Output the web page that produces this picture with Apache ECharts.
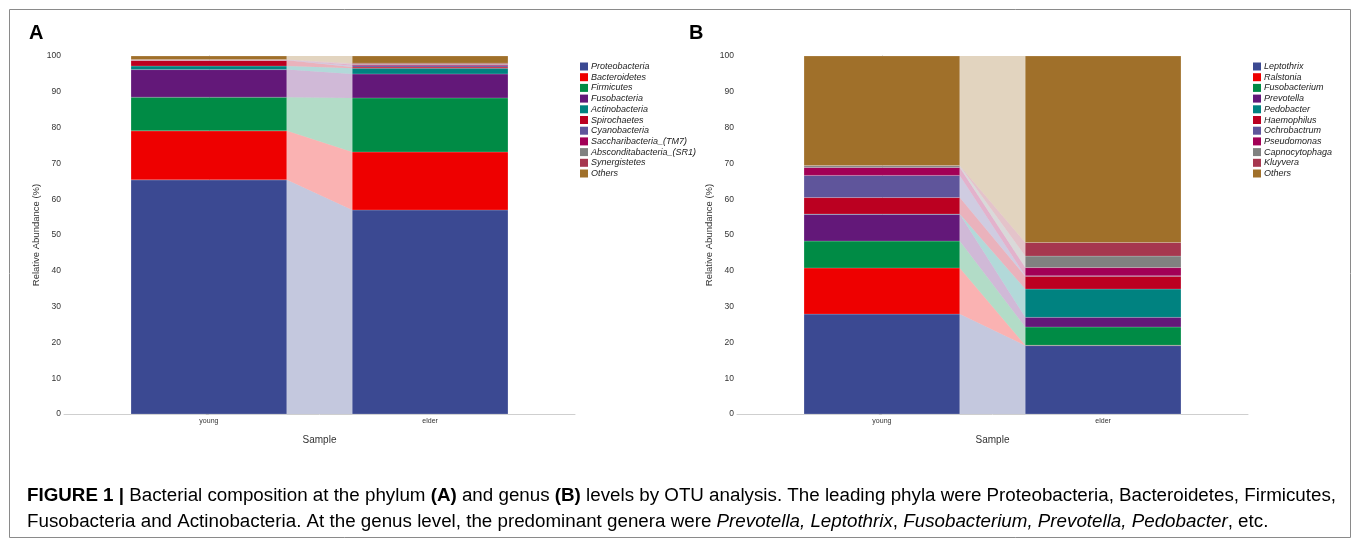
<!DOCTYPE html>
<html>
<head>
<meta charset="utf-8">
<script src="https://cdn.jsdelivr.net/npm/echarts@6/dist/echarts.min.js"></script>
<style>
html,body{margin:0;padding:0;background:#fff;}
#chart{width:1357px;height:542px;}
</style>
</head>
<body>
<div id="chart"></div>
<script>
// ---------------- data ----------------
const categories = ['young', 'elder'];

const phylumNames = ['Proteobacteria', 'Bacteroidetes', 'Firmicutes', 'Fusobacteria', 'Actinobacteria',
  'Spirochaetes', 'Cyanobacteria', 'Saccharibacteria_(TM7)', 'Absconditabacteria_(SR1)', 'Synergistetes', 'Others'];
const phylumYoung = [65.4, 13.7, 9.4, 7.7, 1.0, 1.6, 0.05, 0.05, 0.05, 0.05, 1.0];
const phylumElder = [57.0, 16.2, 15.1, 6.7, 1.6, 0.3, 0.4, 0.3, 0.2, 0.2, 2.0];

const genusNames = ['Leptothrix', 'Ralstonia', 'Fusobacterium', 'Prevotella', 'Pedobacter',
  'Haemophilus', 'Ochrobactrum', 'Pseudomonas', 'Capnocytophaga', 'Kluyvera', 'Others'];
const genusYoung = [27.9, 12.9, 7.5, 7.5, 0.05, 4.6, 6.2, 2.2, 0.5, 0.05, 30.6];
const genusElder = [19.1, 0.1, 5.1, 2.7, 7.9, 3.6, 0.1, 2.3, 3.2, 3.8, 52.1];

const yTicks = [0, 100, 10]; // min, max, interval

// ---------------- styles ----------------
const palette = ['#3B4992', '#EE0000', '#008B45', '#631879', '#008280', '#BB0021',
  '#5F559B', '#A20056', '#808180', '#A6374F', '#A0702A'];

const HALF = 0.352; // half bar width in category units

function renderItem(params, api) {
  const y0 = api.value(1), y1 = api.value(2), e0 = api.value(3), e1 = api.value(4);
  const color = api.visual('color');
  const p = (x, y) => api.coord([x, y]);
  const a = p(-HALF, y1), b = p(HALF, y0);
  const c = p(1 - HALF, e1), d = p(1 + HALF, e0);
  const stroke = 'rgba(255,255,255,0.3)';
  return {
    type: 'group',
    children: [
      {
        type: 'polygon',
        shape: { points: [p(HALF, y0), p(HALF, y1), p(1 - HALF, e1), p(1 - HALF, e0)] },
        style: { fill: color, opacity: 0.3 }
      },
      {
        type: 'rect',
        shape: { x: a[0], y: a[1], width: b[0] - a[0], height: b[1] - a[1] },
        style: { fill: color, stroke: stroke, lineWidth: 0.6 }
      },
      {
        type: 'rect',
        shape: { x: c[0], y: c[1], width: d[0] - c[0], height: d[1] - c[1] },
        style: { fill: color, stroke: stroke, lineWidth: 0.6 }
      }
    ]
  };
}

function buildSeries(names, young, elder, idx) {
  let cy = 0, ce = 0;
  return names.map((n, i) => {
    const item = [0, cy, cy + young[i], ce, ce + elder[i]];
    cy += young[i];
    ce += elder[i];
    return {
      type: 'custom',
      name: n,
      xAxisIndex: idx,
      yAxisIndex: idx,
      itemStyle: { color: palette[i] },
      renderItem: renderItem,
      encode: { x: 0, y: [1, 2, 3, 4] },
      data: [item],
      silent: true
    };
  });
}

function xAxis(idx) {
  return {
    type: 'value',
    gridIndex: idx,
    min: -0.655,
    max: 1.655,
    name: 'Sample',
    nameLocation: 'middle',
    nameGap: 21,
    nameTextStyle: { fontSize: 10, color: '#333', fontFamily: 'Liberation Sans' },
    axisLine: { show: true, lineStyle: { color: '#cfcfcf', width: 1 } },
    axisTick: { show: false },
    splitLine: { show: false },
    axisLabel: {
      customValues: [0, 1],
      formatter: v => categories[Math.round(v)] || '',
      fontSize: 7,
      color: '#333',
      margin: 4,
      fontFamily: 'Liberation Sans'
    }
  };
}

function yAxis(idx) {
  return {
    type: 'value',
    gridIndex: idx,
    min: yTicks[0],
    max: yTicks[1],
    interval: yTicks[2],
    name: 'Relative Abundance (%)',
    nameLocation: 'middle',
    nameGap: 23,
    nameTextStyle: { fontSize: 9.5, color: '#333', fontFamily: 'Liberation Sans' },
    axisLine: { show: true, lineStyle: { color: '#b5b5b5', width: 1 } },
    axisTick: { show: true, length: 3, lineStyle: { color: '#b5b5b5' } },
    splitLine: { show: false },
    axisLabel: { fontSize: 8.5, color: '#333', margin: 3, fontFamily: 'Liberation Sans' }
  };
}

function legend(names, left) {
  return {
    data: names,
    orient: 'vertical',
    left: left,
    top: 57,
    icon: 'rect',
    itemWidth: 8,
    itemHeight: 8,
    itemGap: 1.7,
    selectedMode: false,
    textStyle: { fontSize: 9, lineHeight: 9, fontStyle: 'italic', color: '#222',
      fontFamily: 'Liberation Sans', padding: [0, 0, 0, -2] }
  };
}

// ---------------- caption (condensed by horizontal scaling) ----------------
const CAP_FONT = 'Liberation Sans';
const CAP_SIZE = 18;
const capLine1 = [
  ['b', 'FIGURE 1 |'], ['n', ' Bacterial composition at the phylum '], ['b', '(A)'], ['n', ' and genus '],
  ['b', '(B)'], ['n', ' levels by OTU analysis. The leading phyla were Proteobacteria, Bacteroidetes, Firmicutes,']
];
const capLine2 = [
  ['n', 'Fusobacteria and Actinobacteria. At the genus level, the predominant genera were '],
  ['i', 'Prevotella, Leptothrix'], ['n', ', '], ['i', 'Fusobacterium, Prevotella, Pedobacter'], ['n', ', etc.']
];
function fontFor(k) {
  return (k === 'i' ? 'italic ' : '') + (k === 'b' ? 'bold ' : '') + CAP_SIZE + 'px "' + CAP_FONT + '"';
}
const mctx = document.createElement('canvas').getContext('2d');
function measure(parts) {
  let w = 0;
  parts.forEach(([k, t]) => { mctx.font = fontFor(k); w += mctx.measureText(t).width; });
  return w;
}
const capScale = 1309 / measure(capLine1);
function richText(parts) { return parts.map(([k, t]) => '{' + k + '|' + t + '}').join(''); }
const captionRich = {
  b: { fontSize: CAP_SIZE, fontWeight: 'bold', fontFamily: CAP_FONT, color: '#231f20' },
  n: { fontSize: CAP_SIZE, fontFamily: CAP_FONT, color: '#231f20' },
  i: { fontSize: CAP_SIZE, fontStyle: 'italic', fontFamily: CAP_FONT, color: '#231f20' }
};

const chart = echarts.init(document.getElementById('chart'), null, { renderer: 'canvas' });

chart.setOption({
  animation: false,
  backgroundColor: '#fff',
  grid: [
    { left: 64, top: 56, width: 511, height: 358 },
    { left: 737, top: 56, width: 511, height: 358 }
  ],
  xAxis: [xAxis(0), xAxis(1)],
  yAxis: [yAxis(0), yAxis(1)],
  legend: [legend(phylumNames, 575), legend(genusNames, 1248)],
  series: buildSeries(phylumNames, phylumYoung, phylumElder, 0)
    .concat(buildSeries(genusNames, genusYoung, genusElder, 1)),
  graphic: [
    { type: 'rect', left: 7, top: 7, shape: { width: 1341, height: 528 },
      style: { fill: 'none', stroke: '#8a8a8a', lineWidth: 1 }, silent: true },
    { type: 'text', left: 29, top: 23, style: { text: 'A', fontSize: 20, fontWeight: 'bold', fill: '#000', fontFamily: 'Liberation Sans' } },
    { type: 'text', left: 689, top: 23, style: { text: 'B', fontSize: 20, fontWeight: 'bold', fill: '#000', fontFamily: 'Liberation Sans' } },
    { type: 'text', x: 27, y: 496, scaleX: capScale, style: {
        x: 0, y: 0, verticalAlign: 'middle', text: richText(capLine1), rich: captionRich } },
    { type: 'text', x: 27, y: 522, scaleX: capScale, style: {
        x: 0, y: 0, verticalAlign: 'middle', text: richText(capLine2), rich: captionRich } }
  ]
});
</script>
</body>
</html>
